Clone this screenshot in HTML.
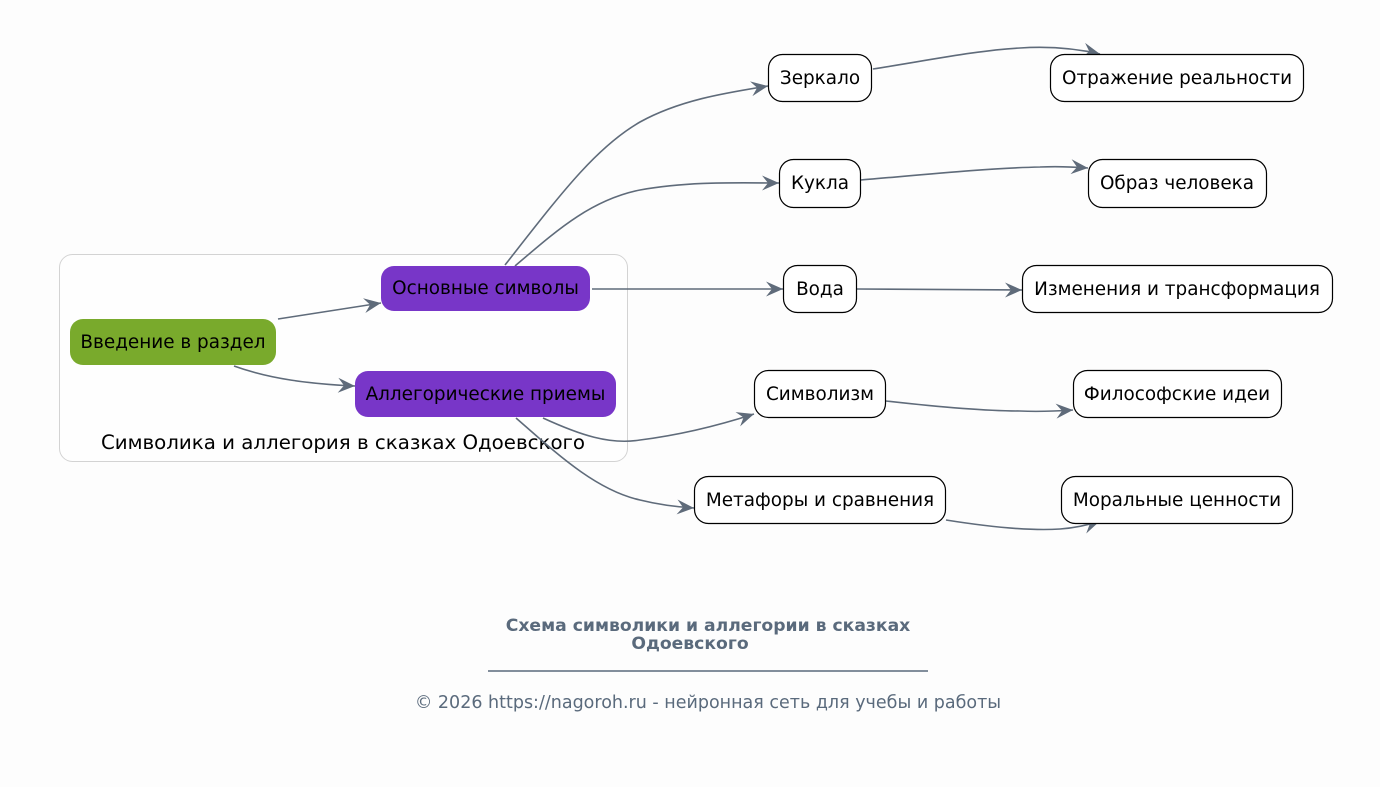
<!DOCTYPE html>
<html><head><meta charset="utf-8"><style>
html,body{margin:0;padding:0;background:#fdfdfd;}
svg{display:block;}
text{font-family:"DejaVu Sans","Liberation Sans",sans-serif;}
</style></head><body>
<svg width="1380" height="787" viewBox="0 0 1380 787" xmlns="http://www.w3.org/2000/svg">
<defs>
<marker id="ah" markerUnits="userSpaceOnUse" markerWidth="19" markerHeight="16" refX="17" refY="8" orient="auto">
<path d="M0,0.5 L17,8 L0,15.5 L6,8 z" fill="#5f6b7a"/>
</marker>
</defs>
<rect width="1380" height="787" fill="#fdfdfd"/>
<!-- cluster -->
<rect x="59.5" y="254.5" width="568" height="207" rx="13" fill="#fefefe" stroke="#d3d3d3" stroke-width="1"/>
<text x="343" y="449" font-size="19.8" text-anchor="middle" fill="#000">Символика и аллегория в сказках Одоевского</text>

<!-- edges -->
<g fill="none" stroke="#5f6b7a" stroke-width="1.6" marker-end="url(#ah)">
<path d="M278,319 L381,303"/>
<path d="M234,366 C270,379 310,384 355,386"/>
<path d="M505,265 C560,195 595,148 640,122 C680,100 725,93 768,86"/>
<path d="M515,266 C555,232 590,200 640,190 C690,181 740,183 779,183"/>
<path d="M592,289 L783,289"/>
<path d="M543,418 C580,435 610,445 640,440 C680,435 720,425 754,414"/>
<path d="M516,418 C555,452 595,490 640,500 C660,505 678,507 694,508"/>
<path d="M873,69 C930,60 980,50 1020,48 C1050,46 1078,49 1100,54"/>
<path d="M861,180 C920,175 990,168 1040,167 C1060,166 1075,167 1088,168"/>
<path d="M857,289 C920,289 980,290 1022,290"/>
<path d="M886,401 C930,406 980,411 1020,411 C1040,412 1058,411 1073,410"/>
<path d="M946,520 C990,527 1030,531 1060,529 C1075,528 1088,525 1100,521"/>
</g>

<!-- cluster nodes -->
<rect x="70" y="319" width="206" height="46" rx="13" fill="#79aa2c"/>
<text x="173" y="348" font-size="18.4" text-anchor="middle" fill="#000">Введение в раздел</text>
<rect x="381" y="266" width="209" height="45" rx="13" fill="#7836c8"/>
<text x="485.5" y="294" font-size="18.4" text-anchor="middle" fill="#000">Основные символы</text>
<rect x="355" y="371" width="261" height="46" rx="13" fill="#7836c8"/>
<text x="485.5" y="400" font-size="18.4" text-anchor="middle" fill="#000">Аллегорические приемы</text>

<!-- white nodes -->
<g fill="#ffffff" stroke="#000" stroke-width="1.2">
<rect x="768.5" y="54.5" width="103" height="47" rx="14"/>
<rect x="1050.5" y="54.5" width="253" height="47" rx="14"/>
<rect x="779.5" y="159.5" width="81" height="48" rx="14"/>
<rect x="1088.5" y="159.5" width="178" height="48" rx="14"/>
<rect x="783.5" y="265.5" width="73" height="47" rx="14"/>
<rect x="1022.5" y="265.5" width="310" height="47" rx="14"/>
<rect x="754.5" y="370.5" width="131" height="47" rx="14"/>
<rect x="1073.5" y="370.5" width="208" height="47" rx="14"/>
<rect x="694.5" y="476.5" width="251" height="47" rx="14"/>
<rect x="1061.5" y="476.5" width="231" height="47" rx="14"/>
</g>
<g font-size="18.4" text-anchor="middle" fill="#000">
<text x="820" y="84">Зеркало</text>
<text x="1177" y="84">Отражение реальности</text>
<text x="820" y="189">Кукла</text>
<text x="1177" y="189">Образ человека</text>
<text x="820" y="295">Вода</text>
<text x="1177" y="295">Изменения и трансформация</text>
<text x="820" y="400">Символизм</text>
<text x="1177" y="400">Философские идеи</text>
<text x="820" y="506">Метафоры и сравнения</text>
<text x="1177" y="506">Моральные ценности</text>
</g>

<!-- footer -->
<g fill="#5a6a7c" text-anchor="middle">
<text x="708" y="631" font-size="17.2" font-weight="bold">Схема символики и аллегории в сказках</text>
<text x="690" y="649" font-size="17.2" font-weight="bold">Одоевского</text>
<text x="708" y="708" font-size="17.5">© 2026 https://nagoroh.ru - нейронная сеть для учебы и работы</text>
</g>
<line x1="488" y1="671" x2="928" y2="671" stroke="#5a6a7c" stroke-width="1.4"/>
</svg>
</body></html>
